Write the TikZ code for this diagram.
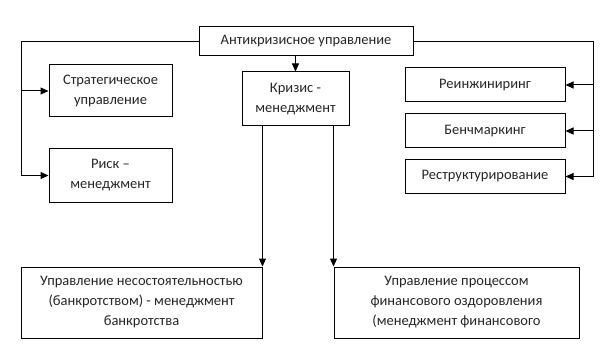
\documentclass[tikz,border=0pt]{standalone}
\usepackage{fontspec}
\setmainfont{Carlito}
\usepackage{xcolor}
\usetikzlibrary{arrows.meta,positioning,calc}
\definecolor{cA}{HTML}{000000}
\definecolor{cT}{HTML}{262626}
\tikzset{
  box/.style={draw=cA,line width=1pt,fill=white,inner sep=2pt,align=center,
              text=cT,font=\fontsize{14.5}{20}\selectfont},
  maparrow/.style={-{Triangle[length=8pt,width=7pt]},line width=1pt,cA},
}

\begin{document}
\begin{tikzpicture}[x=1pt,y=-1pt]
  \useasboundingbox (0,0) rectangle (612,358);
  % top of the scheme
  \node[box,minimum width=214pt,minimum height=29pt] (anti) at (306,41.5) {Антикризисное управление};
  % left column
  \node[box,minimum width=123pt,minimum height=52pt] (strat) at (110.5,91) {Стратегическое\\управление};
  \node[box,minimum width=123pt,minimum height=53pt] (risk) at (110.5,175.5) {Риск –\\менеджмент};
  % middle
  \node[box,minimum width=107pt,minimum height=54pt] (crisis) at (295.5,99) {Кризис -\\менеджмент};
  % right column
  \node[box,minimum width=160pt,minimum height=34pt] (reeng) at (485,85) {Реинжиниринг};
  \node[box,minimum width=160pt,minimum height=34pt] (bench) at (485,131) {Бенчмаркинг};
  \node[box,minimum width=160pt,minimum height=33pt] (restr) at (485,176.5) {Реструктурирование};
  % bottom row
  \node[box,minimum width=241pt,minimum height=71pt] (bankr) at (141.5,302.5) {Управление несостоятельностью\\(банкротством) - менеджмент\\банкротства};
  \node[box,minimum width=245pt,minimum height=71pt] (recov) at (456.5,302.5) {Управление процессом\\финансового оздоровления\\(менеджмент финансового};

  \coordinate (lb) at (21,175.5);
  \coordinate (rb) at (593,176.5);
  \draw[maparrow] (anti.west) -| (lb) -- (risk.west);
  \draw[maparrow] (lb |- strat.west) -- (strat.west);
  \draw[maparrow] (anti.east) -| (rb) -- (restr.east);
  \draw[maparrow] (rb |- reeng.east) -- (reeng.east);
  \draw[maparrow] (rb |- bench.east) -- (bench.east);
  \draw[maparrow] (anti.south -| crisis.north) -- (crisis.north);
  \draw[maparrow] (crisis.south -| bankr.north east) -- (bankr.north east);
  \draw[maparrow] (crisis.south -| recov.north west) -- (recov.north west);
\end{tikzpicture}
\end{document}
